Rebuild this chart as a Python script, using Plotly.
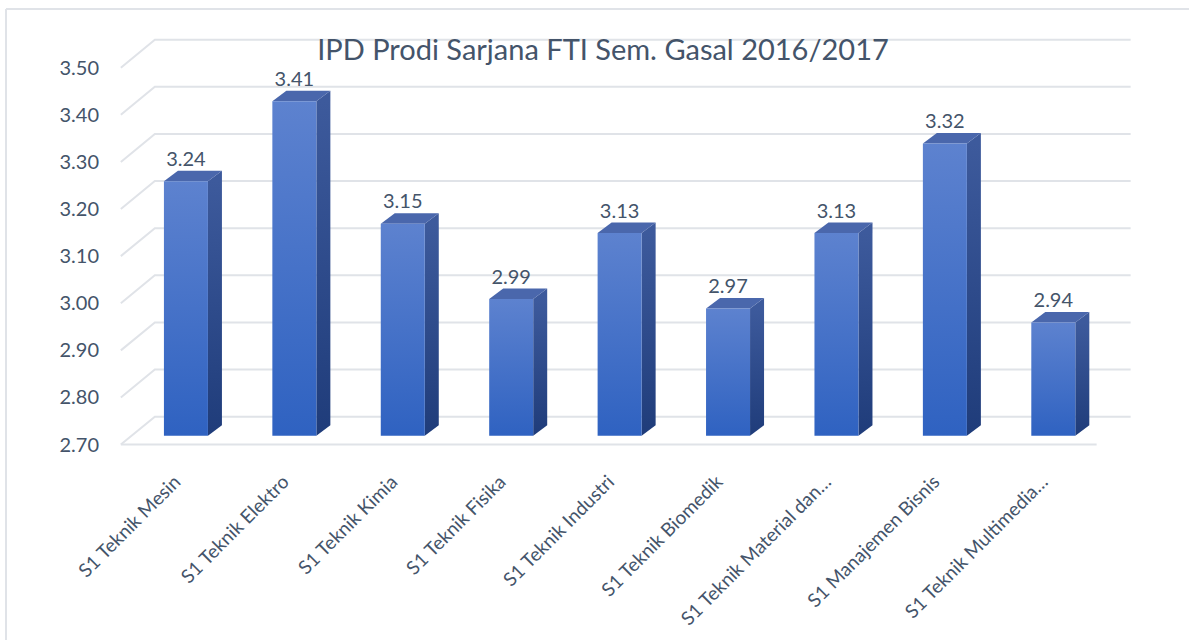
import plotly.graph_objects as go

# data
categories = [
    "S1 Teknik Mesin",
    "S1 Teknik Elektro",
    "S1 Teknik Kimia",
    "S1 Teknik Fisika",
    "S1 Teknik Industri",
    "S1 Teknik Biomedik",
    "S1 Teknik Material dan…",
    "S1 Manajemen Bisnis",
    "S1 Teknik Multimedia…",
]
ipd = [3.24, 3.41, 3.15, 2.99, 3.13, 2.97, 3.13, 3.32, 2.94]
y_ticks = [2.70, 2.80, 2.90, 3.00, 3.10, 3.20, 3.30, 3.40, 3.50]
title = "IPD Prodi Sarjana FTI Sem. Gasal 2016/2017"

BASE = y_ticks[0]

# fake 3d projection (oblique), in axis units
PX_X = 108.4          # px per category
PX_Y = 472.0          # px per 1.0 of value
DEPTH_X = 34 / PX_X   # full floor depth, x
DEPTH_Y = 28 / PX_Y   # full floor depth, y
D0 = 0.32             # bar front face depth
BW = 44 / PX_X        # bar width
BDX = 14 / PX_X       # bar side depth
BDY = 10.5 / PX_Y

TEXT = "#44546A"
GRID = "#E0E3E8"
FONT = "Lato, 'Open Sans', sans-serif"

x_range = [-0.6, 8.9]
y_range = [2.68, 3.58]
W, H = 1189, 640
m_l = 175.5 + x_range[0] * PX_X
m_r = W - (175.5 + x_range[1] * PX_X)
m_b = H - (445 + (BASE - y_range[0]) * PX_Y)
m_t = 445 - (y_range[1] - BASE) * PX_Y

fig = go.Figure()

# gridlines: side wall diagonal + back wall line
n = len(categories)
for t in y_ticks:
    fig.add_trace(go.Scatter(
        x=[-0.5, -0.5 + DEPTH_X, n - 0.5 + DEPTH_X],
        y=[t, t + DEPTH_Y, t + DEPTH_Y],
        mode="lines", line=dict(color=GRID, width=2),
        hoverinfo="skip", showlegend=False))
# front edge of the floor
fig.add_trace(go.Scatter(
    x=[-0.5, n - 0.5], y=[BASE, BASE],
    mode="lines", line=dict(color=GRID, width=2),
    hoverinfo="skip", showlegend=False))

# bars
for i, v in enumerate(ipd):
    xl = i + D0 * DEPTH_X - BW / 2
    xr = xl + BW
    yb = BASE + D0 * DEPTH_Y
    yt = v + D0 * DEPTH_Y
    # side face
    fig.add_trace(go.Scatter(
        x=[xr, xr + BDX, xr + BDX, xr, xr],
        y=[yb, yb + BDY, yt + BDY, yt, yb],
        fill="toself", mode="none",
        fillgradient=dict(type="vertical", start=yb, stop=yt,
                          colorscale=[[0, "#1F3C7A"], [1, "#3D5A9C"]]),
        hoverinfo="skip", showlegend=False))
    # top face
    fig.add_trace(go.Scatter(
        x=[xl, xr, xr + BDX, xl + BDX, xl],
        y=[yt, yt, yt + BDY, yt + BDY, yt],
        fill="toself", mode="none", fillcolor="#4A67AC",
        hoverinfo="skip", showlegend=False))
    # front face
    fig.add_trace(go.Scatter(
        x=[xl, xr, xr, xl, xl],
        y=[yb, yb, yt, yt, yb],
        fill="toself", mode="none",
        fillgradient=dict(type="vertical", start=yb, stop=yt,
                          colorscale=[[0, "#2F62C1"], [1, "#5D82CF"]]),
        name=categories[i], hoverinfo="name", showlegend=False))

# value labels
fig.add_trace(go.Scatter(
    x=[i + D0 * DEPTH_X for i in range(n)],
    y=[v + D0 * DEPTH_Y + BDY for v in ipd],
    text=[f"{v:.2f}" for v in ipd],
    mode="text", textposition="top center",
    textfont=dict(size=20, color=TEXT, family=FONT),
    hoverinfo="skip", showlegend=False))

# chart border (top and left)
pw = W - m_l - m_r
ph = H - m_t - m_b
fig.add_shape(type="line", xref="paper", yref="paper",
              x0=(6.5 - m_l) / pw, x1=(W + 5 - m_l) / pw,
              y0=(H - 8.5 - m_b) / ph, y1=(H - 8.5 - m_b) / ph,
              line=dict(color=GRID, width=2))
fig.add_shape(type="line", xref="paper", yref="paper",
              x0=(6.5 - m_l) / pw, x1=(6.5 - m_l) / pw,
              y0=(H - 8.5 - m_b) / ph, y1=(-5 - m_b) / ph,
              line=dict(color=GRID, width=2))

fig.update_layout(
    width=W, height=H,
    margin=dict(l=m_l, r=m_r, t=m_t, b=m_b, pad=0),
    paper_bgcolor="white", plot_bgcolor="white",
    font=dict(family=FONT, color=TEXT),
    title=dict(text=title, x=603 / W, xref="container", xanchor="center",
               y=1 - 50 / H, yref="container", yanchor="middle",
               font=dict(size=29, color=TEXT, family=FONT)),
    xaxis=dict(range=x_range, tickvals=list(range(n)), ticktext=categories,
               tickangle=-45, showgrid=False, zeroline=False, showline=False,
               ticks="", ticklabelstandoff=12,
               tickfont=dict(size=19, color=TEXT)),
    yaxis=dict(range=y_range, tickvals=y_ticks, tickformat=".2f",
               showgrid=False, zeroline=False, showline=False, ticks="",
               ticklabelstandoff=10, tickfont=dict(size=20, color=TEXT)),
)

fig.write_html("out.html", config={"displayModeBar": False},
               post_script="document.body.style.margin='0';")
